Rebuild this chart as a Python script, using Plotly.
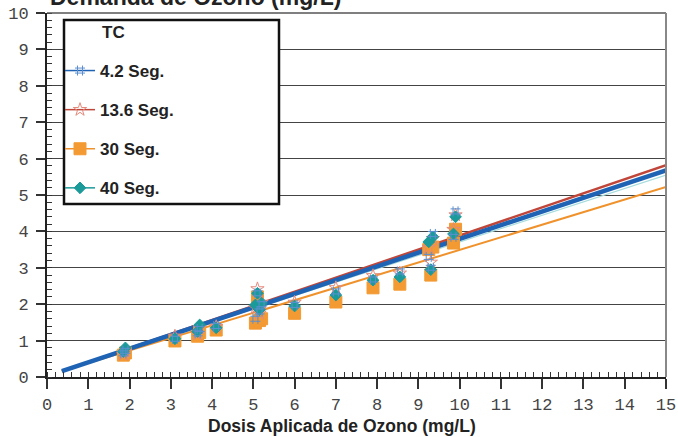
import plotly.graph_objects as go

# ---------------- data ----------------
series_names = ["4.2 Seg.", "13.6 Seg.", "30 Seg.", "40 Seg."]
dose = [1.85, 1.9, 3.1, 3.65, 3.7, 4.1, 5.05, 5.1, 5.15, 5.2, 6.0, 7.0, 7.9, 8.55, 9.25, 9.3, 9.35, 9.85, 9.9]
demand_42 = [0.65, 0.72, 1.05, 1.2, 1.32, 1.4, 1.6, 2.3, 1.8, 2.0, 1.98, 2.35, 2.68, 2.9, 3.3, 3.0, 3.93, 3.85, 4.55]
demand_136 = [0.62, 0.7, 1.12, 1.18, 1.35, 1.38, 1.9, 2.42, 1.75, 2.05, 2.05, 2.45, 2.78, 2.85, 3.55, 3.15, 3.8, 4.05, 4.45]
demand_30 = [0.6, 0.66, 0.99, 1.12, 1.22, 1.29, 1.48, 2.2, 1.55, 1.6, 1.75, 2.06, 2.45, 2.55, 3.5, 2.8, 3.57, 3.68, 4.06]
demand_40 = [0.7, 0.8, 1.05, 1.25, 1.43, 1.35, 1.98, 2.3, 1.85, 2.03, 1.95, 2.25, 2.66, 2.75, 3.71, 2.95, 3.85, 3.93, 4.4]
# linear trend parameters (slope, intercept) per series
trend_slope = [0.377, 0.3866, 0.3456, 0.368]
trend_intercept = [0.024, 0.021, 0.036, 0.028]
trend_x_range = [0.36, 15.0]
x_ticks = list(range(0, 16))
y_ticks = list(range(0, 11))

demands = [demand_42, demand_136, demand_30, demand_40]

# ---------------- styles ----------------
marker_sym = ["hash-open", "star-open", "square", "diamond"]
marker_col = ["#5b8fd0", "#e48a7c", "#f39a32", "#1b9a9a"]
marker_size = [10, 10, 12, 9]
line_col = ["#1f63b4", "#c0463a", "#f0922c", "#a8dcdc"]
line_w = [4.5, 2.5, 2, 1.2]
legend_line_col = ["#1f63b4", "#c0463a", "#f0922c", "#1b9a9a"]

fig = go.Figure()

# trend lines (draw order: red, teal, orange, blue)
for i in [1, 3, 2, 0]:
    xs = trend_x_range
    ys = [trend_slope[i] * x + trend_intercept[i] for x in xs]
    fig.add_trace(go.Scatter(x=xs, y=ys, mode="lines",
                             line=dict(color=line_col[i], width=line_w[i]),
                             showlegend=False, hoverinfo="skip"))

# data points
for i in [2, 1, 3, 0]:
    fig.add_trace(go.Scatter(
        x=dose, y=demands[i], mode="markers",
        marker=dict(symbol=marker_sym[i], color=marker_col[i], size=marker_size[i],
                    line=dict(color=marker_col[i], width=1)),
        showlegend=False))

# legend entries
for i, name in enumerate(series_names):
    fig.add_trace(go.Scatter(
        x=[None], y=[None], mode="lines+markers", name=name, legendgroup=name,
        line=dict(color=legend_line_col[i], width=1.5),
        marker=dict(symbol=marker_sym[i], color=marker_col[i], size=marker_size[i],
                    line=dict(color=marker_col[i], width=1))))

L, R, T, B = 47, 12, 13, 60
W, H = 678, 437
pw, ph = W - L - R, H - T - B

def px_x(p):
    return (p - L) / pw

def px_y(p):
    return (H - B - p) / ph

tickfont = dict(family="Liberation Mono", size=17, color="#444")
boldfont = dict(family="Liberation Sans, Arial", size=17, color="#222", weight="bold")

fig.update_layout(
    width=W, height=H,
    margin=dict(l=L, r=R, t=T, b=B, autoexpand=False),
    paper_bgcolor="white", plot_bgcolor="white",
    xaxis=dict(range=[0, 15], tickvals=x_ticks, ticks="outside", ticklen=10, tickwidth=1.5,
               tickcolor="#333", showline=True, linecolor="#222", linewidth=2,
               showgrid=False, zeroline=False, tickfont=tickfont, ticklabelstandoff=1,
               automargin=False,
               minor=dict(dtick=0.2, tick0=0, ticks="inside", ticklen=5, tickcolor="#333",
                          tickwidth=1, showgrid=False)),
    yaxis=dict(range=[0, 10], tickvals=y_ticks, ticks="outside", ticklen=9, tickwidth=1.5,
               tickcolor="#333", showline=True, linecolor="#222", linewidth=2,
               showgrid=True, gridcolor="#444", gridwidth=1.3, zeroline=False,
               tickfont=tickfont, ticklabelstandoff=4, automargin=False,
               minor=dict(dtick=0.2, tick0=0, ticks="inside", ticklen=5, tickcolor="#333",
                          tickwidth=1, showgrid=False)),
    legend=dict(x=px_x(60), y=px_y(53), xanchor="left", yanchor="top",
                bgcolor="rgba(0,0,0,0)", borderwidth=0, font=boldfont,
                traceorder="grouped", tracegroupgap=14),
    showlegend=True,
    shapes=[
        dict(type="rect", xref="paper", yref="paper", x0=px_x(64), x1=px_x(279),
             y0=px_y(204), y1=px_y(20), fillcolor="white", line=dict(color="#111", width=2.5),
             layer="above"),
        dict(type="line", xref="paper", yref="paper", x0=0, x1=1, y0=1, y1=1,
             line=dict(color="#555", width=1.5)),
        dict(type="line", xref="paper", yref="paper", x0=1, x1=1, y0=0, y1=1,
             line=dict(color="#888", width=2)),
    ],
    annotations=[
        dict(text="<b>TC</b>", xref="paper", yref="paper", x=px_x(100), y=px_y(32),
             xanchor="left", yanchor="middle", showarrow=False, font=boldfont),
        dict(text="<b>Demanda de Ozono (mg/L)</b>", xref="paper", yref="paper", x=px_x(48),
             y=1, xanchor="left", yanchor="middle", yshift=16, showarrow=False,
             font=dict(family="Liberation Sans, Arial", size=23, color="#222")),
        dict(text="<b>Dosis Aplicada de Ozono (mg/L)</b>", xref="paper", yref="paper",
             x=px_x(342), y=px_y(426), xanchor="center", yanchor="middle", showarrow=False,
             font=dict(family="Liberation Sans, Arial", size=17.5, color="#222")),
    ],
)

fig.write_html("out.html", config={"displayModeBar": False},
               post_script="document.body.style.margin='0';document.body.style.overflow='hidden';")
